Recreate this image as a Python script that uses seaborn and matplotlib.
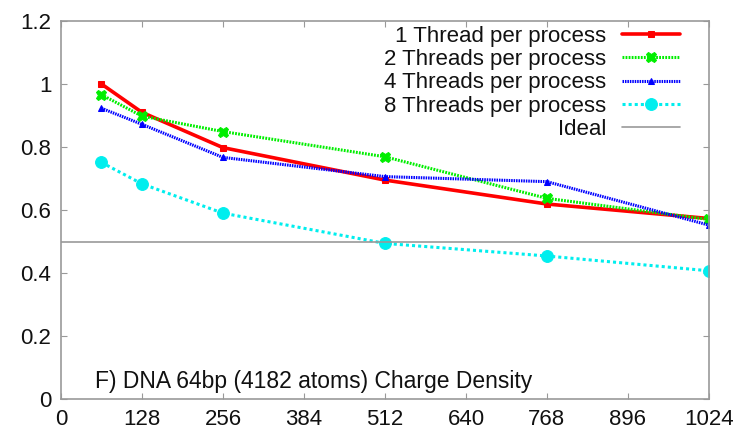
import matplotlib
matplotlib.use("Agg")
import matplotlib.pyplot as plt
import seaborn as sns
import pandas as pd

threads_x = [64, 128, 256, 512, 768, 1024]
one_thread = [1.0, 0.910, 0.798, 0.695, 0.619, 0.573]
two_threads = [0.966, 0.898, 0.849, 0.769, 0.637, 0.570]
four_threads = [0.923, 0.872, 0.767, 0.706, 0.690, 0.552]
eight_threads = [0.751, 0.683, 0.590, 0.494, 0.454, 0.407]
ideal_value = 0.5
x_ticks = [0, 128, 256, 384, 512, 640, 768, 896, 1024]
y_ticks = [0, 0.2, 0.4, 0.6, 0.8, 1.0, 1.2]
y_tick_labels = ["0", "0.2", "0.4", "0.6", "0.8", "1", "1.2"]
annotation = "F) DNA 64bp (4182 atoms) Charge Density"

sns.set_style("ticks")
plt.rcParams['font.family'] = ['Liberation Sans', 'DejaVu Sans']

fig = plt.figure(figsize=(7.40, 4.33), dpi=100)
ax = fig.add_axes([0.0824, 0.0785, 0.958 - 0.0824, 0.9515 - 0.0785])

series = [
    ("1 Thread per process", one_thread, dict(color="#ff0000", lw=2.6, ls="-", marker="s", ms=5)),
    ("2 Threads per process", two_threads, dict(color="#00ee00", lw=2.2, ls=(0, (0.6, 0.4)), marker="X", ms=7.5)),
    ("4 Threads per process", four_threads, dict(color="#0000ff", lw=2.2, ls=(0, (0.5, 0.3)), marker="^", ms=5)),
    ("8 Threads per process", eight_threads, dict(color="#00eeee", lw=2.2, ls=(0, (1.0, 1.0)), marker="o", ms=8.5)),
]

for name, vals, st in series:
    df = pd.DataFrame({"x": threads_x, "y": vals})
    sns.lineplot(data=df, x="x", y="y", ax=ax, label=name,
                 color=st["color"], linewidth=st["lw"], linestyle=st["ls"],
                 marker=st["marker"], markersize=st["ms"],
                 markeredgecolor=st["color"], markerfacecolor=st["color"])

ax.axhline(ideal_value, color="#999999", lw=1.2, label="Ideal")

ax.set_xlim(0, 1024)
ax.set_ylim(0, 1.2)
ax.set_xticks(x_ticks)
ax.set_yticks(y_ticks)
ax.set_yticklabels(y_tick_labels)
ax.set_xlabel("")
ax.set_ylabel("")
for s in ax.spines.values():
    s.set_visible(True)
    s.set_color("#999999")
    s.set_linewidth(1.2)
ax.tick_params(direction="in", length=4, color="#999999", top=True, right=True,
               labelsize=16, labelcolor="#111111", pad=7)

ax.text(0.052, 0.029, annotation, transform=ax.transAxes, fontsize=16.5,
        color="#111111", ha="left", va="baseline")

leg = ax.legend(loc="upper right", bbox_to_anchor=(0.955, 0.987), frameon=False,
                markerfirst=False, fontsize=16, handlelength=2.6,
                labelspacing=0.1, borderaxespad=0, borderpad=0,
                handletextpad=0.7)
for t in leg.get_texts():
    t.set_color("#111111")
for vp in leg._legend_handle_box.get_children():
    vp.align = "right"

fig.savefig("out.png", dpi=100)
